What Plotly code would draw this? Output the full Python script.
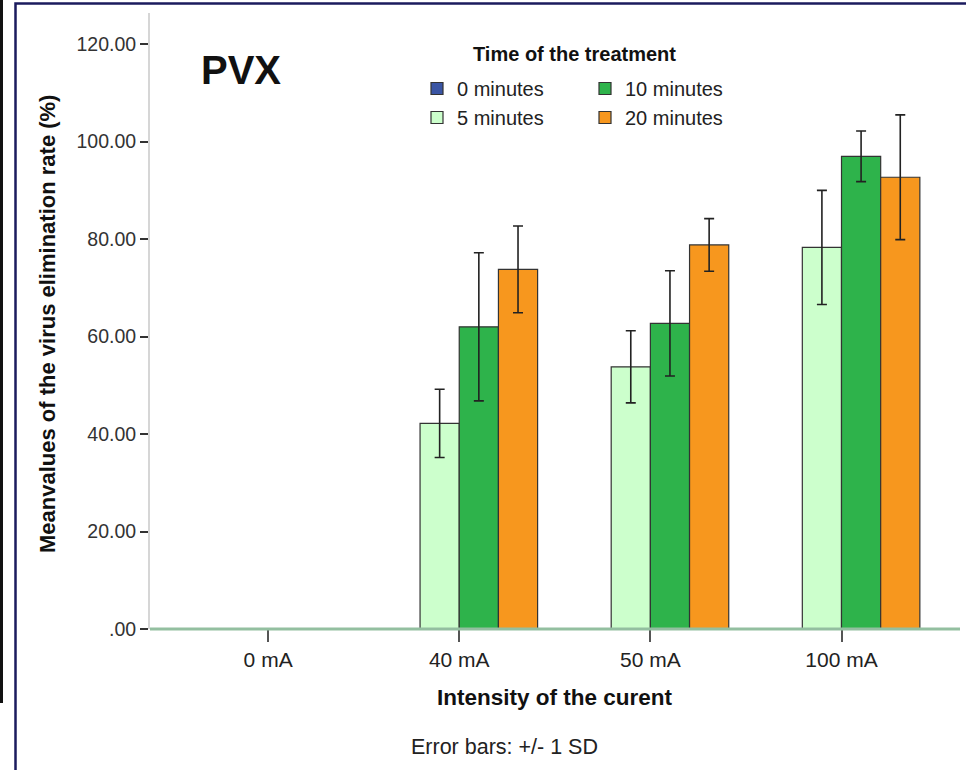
import plotly.graph_objects as go

categories = ["0 mA", "40 mA", "50 mA", "100 mA"]
series_names = ["0 minutes", "5 minutes", "10 minutes", "20 minutes"]
mean_0min = [0.0, None, None, None]
mean_5min = [None, 42.2, 53.8, 78.3]
mean_10min = [None, 62.0, 62.7, 97.0]
mean_20min = [None, 73.8, 78.8, 92.7]
sd_0min = [0.0, 0, 0, 0]
sd_5min = [0, 7.0, 7.4, 11.7]
sd_10min = [0, 15.2, 10.8, 5.2]
sd_20min = [0, 8.9, 5.4, 12.8]
colors = ["#3a55a4", "#ccffcc", "#2eb34b", "#f7971e"]
y_tickvals = [0, 20, 40, 60, 80, 100, 120]
y_ticktext = [".00", "20.00", "40.00", "60.00", "80.00", "100.00", "120.00"]

means = [mean_0min, mean_5min, mean_10min, mean_20min]
sds = [sd_0min, sd_5min, sd_10min, sd_20min]
legends = ["legend", "legend", "legend2", "legend2"]

FONT = "Liberation Sans, Arial, sans-serif"
W, H = 966, 770
L, R, T, B = 150, 6, 13, 141
PW, PH = W - L - R, H - T - B


def px(x):
    return (x - L) / PW


def py(y):
    return (H - B - y) / PH


fig = go.Figure()
for name, m, s, c, lg in zip(series_names, means, sds, colors, legends):
    fig.add_trace(go.Bar(
        x=categories, y=m, name=name, legend=lg,
        marker=dict(color=c, line=dict(color="#333333", width=1.2)),
        error_y=dict(type="data", array=s, visible=True, color="#222222",
                     thickness=1.6, width=5),
    ))

fig.update_layout(
    width=W, height=H,
    margin=dict(l=L, r=R, t=T, b=B),
    paper_bgcolor="white", plot_bgcolor="white",
    barmode="group", bargap=0.18, bargroupgap=0,
    font=dict(family=FONT, size=19, color="#222222"),
    showlegend=True,
    legend=dict(x=px(417), y=py(69), xanchor="left", yanchor="top",
                bgcolor="rgba(0,0,0,0)", font=dict(size=20, color="#222222"),
                tracegroupgap=0),
    legend2=dict(x=px(585), y=py(69), xanchor="left", yanchor="top",
                 bgcolor="rgba(0,0,0,0)", font=dict(size=20, color="#222222"),
                 tracegroupgap=0),
    xaxis=dict(type="category", categoryorder="array", categoryarray=categories,
               range=[-0.618, 3.62], showline=False, showgrid=False, zeroline=False,
               ticks="outside", ticklen=12, tickwidth=2, tickcolor="#555555",
               tickfont=dict(size=21, color="#222222")),
    yaxis=dict(range=[0, 126.4], tickvals=y_tickvals, ticktext=y_ticktext,
               showline=True, linecolor="#d6d6d6", linewidth=2,
               showgrid=False, zeroline=False,
               ticks="outside", ticklen=8, tickwidth=2, tickcolor="#333333",
               tickfont=dict(size=19.5, color="#333333")),
)

shapes = [
    # baseline
    dict(type="line", xref="paper", yref="paper", x0=0, x1=px(960), y0=0, y1=0,
         line=dict(color="#93bfa0", width=3), layer="above"),
    # outer navy frame
    dict(type="rect", xref="paper", yref="paper", x0=px(15.5), x1=px(1000),
         y0=py(800), y1=py(3.5), line=dict(color="#1b1b5e", width=2.5),
         fillcolor="rgba(0,0,0,0)", layer="above"),
    # left black edge
    dict(type="line", xref="paper", yref="paper", x0=px(1.5), x1=px(1.5),
         y0=py(0), y1=py(703), line=dict(color="#111111", width=3), layer="above"),
]
fig.update_layout(shapes=shapes)

annotations = [
    dict(text="<b>PVX</b>", x=px(199), y=py(70), xanchor="left", yanchor="middle",
         font=dict(size=40, color="#111111")),
    dict(text="<b>Time of the treatment</b>", x=px(574), y=py(54), xanchor="center",
         yanchor="middle", font=dict(size=20, color="#111111")),
    dict(text="<b>Meanvalues of the virus elimination rate (%)</b>", x=px(47), y=py(324),
         xanchor="center", yanchor="middle", textangle=-90,
         font=dict(size=22, color="#111111")),
    dict(text="<b>Intensity of the curent</b>", x=px(555), y=py(698), xanchor="center",
         yanchor="middle", font=dict(size=22.5, color="#111111")),
    dict(text="Error bars: +/- 1 SD", x=px(504), y=py(747), xanchor="center",
         yanchor="middle", font=dict(size=21.5, color="#222222")),
]
for a in annotations:
    a.update(xref="paper", yref="paper", showarrow=False)
fig.update_layout(annotations=annotations)

fig.write_html("out.html")
